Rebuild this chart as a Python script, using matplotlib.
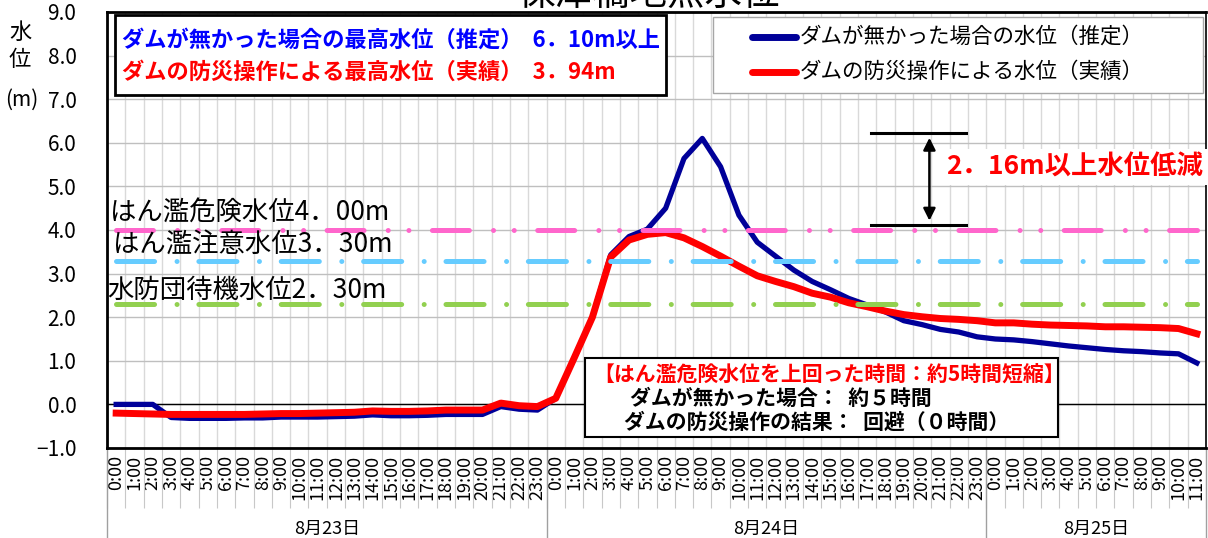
import matplotlib
matplotlib.use("Agg")
import matplotlib.pyplot as plt
from matplotlib.patches import Rectangle
from matplotlib.lines import Line2D
import numpy as np

plt.rcParams['font.family'] = ['Noto Sans CJK JP', 'DejaVu Sans']
plt.rcParams['lines.scale_dashes'] = False

# -- data --
hours = [f"{h}:00" for h in list(range(24)) * 2 + list(range(12))]
days = ["8月23日", "8月24日", "8月25日"]
day_len = [24, 24, 12]

no_dam = [0.0, 0.0, 0.0, -0.30, -0.32, -0.32, -0.32, -0.31, -0.31, -0.29, -0.29, -0.29,
          -0.28, -0.27, -0.24, -0.26, -0.26, -0.25, -0.23, -0.23, -0.23, -0.05, -0.11, -0.13,
          0.14, 1.06, 2.0, 3.43, 3.85, 4.02, 4.50, 5.64, 6.10, 5.45, 4.34, 3.72,
          3.40, 3.08, 2.82, 2.63, 2.43, 2.28, 2.12, 1.92, 1.83, 1.72, 1.66, 1.55, 1.50,
          1.48, 1.44, 1.39, 1.34, 1.30, 1.26, 1.23, 1.21, 1.18, 1.16, 0.95]
actual = [-0.20, -0.21, -0.22, -0.23, -0.23, -0.23, -0.23, -0.23, -0.22, -0.21, -0.21, -0.20,
          -0.19, -0.18, -0.15, -0.16, -0.16, -0.15, -0.13, -0.13, -0.13, 0.03, -0.03, -0.05,
          0.14, 1.06, 2.0, 3.38, 3.77, 3.90, 3.94, 3.82, 3.62, 3.40, 3.17, 2.95,
          2.82, 2.70, 2.55, 2.46, 2.33, 2.24, 2.14, 2.06, 2.01, 1.97, 1.95, 1.92, 1.87,
          1.87, 1.84, 1.82, 1.81, 1.80, 1.78, 1.78, 1.77, 1.76, 1.74, 1.62]

level_names = ["はん濫危険水位4．00m", "はん濫注意水位3．30m", "水防団待機水位2．30m"]
level_values = [4.00, 3.30, 2.30]
level_colors = ["#FF66CC", "#66CCFF", "#92D050"]

x = np.arange(len(hours))

fig = plt.figure(figsize=(12.08, 5.38), dpi=100)
ax = fig.add_axes([107 / 1208, 1 - 448 / 538, (1206 - 107) / 1208, (448 - 12) / 538])
ax.set_xlim(-0.5, len(hours) - 0.5)
ax.set_ylim(-1, 9)

# grid
ax.set_yticks(np.arange(-1, 9.1, 1))
ax.set_yticklabels([f"{v:.1f}".replace("-", "−") for v in np.arange(-1, 9.1, 1)], fontsize=15)
ax.yaxis.grid(True, color="#BFBFBF", lw=1)
ax.set_xticks(x)
ax.set_xticklabels(hours, rotation=90, fontsize=13)
ax.set_xticks(np.arange(-0.5, len(hours), 1), minor=True)
ax.xaxis.grid(True, which="minor", color="#D9D9D9", lw=1)
ax.xaxis.grid(False, which="major")
ax.tick_params(axis="x", which="major", length=0, pad=5)
ax.tick_params(axis="x", which="minor", length=43, color="#C8C8C8", width=0.8)
ax.tick_params(axis="y", length=0, pad=22)
ax.set_axisbelow(True)
for s in ["left", "bottom", "top"]:
    ax.spines[s].set_linewidth(2)
ax.spines["right"].set_linewidth(1.2)
ax.axhline(0, color="black", lw=1, zorder=1)

# day separators and labels
edges = np.cumsum([0] + day_len) - 0.5
for e in edges:
    ax.plot([e, e], [0, -0.21], transform=ax.get_xaxis_transform(),
            color="#A0A0A0", lw=1, clip_on=False)
for i, d in enumerate(days):
    ax.text((edges[i] + edges[i + 1]) / 2, -0.185, d, transform=ax.get_xaxis_transform(),
            ha="center", va="center", fontsize=13)

# series
ax.plot(x, no_dam, color="#000099", lw=3.8, solid_joinstyle="round", zorder=3)
ax.plot(x, actual, color="#FF0000", lw=5, solid_joinstyle="round", zorder=4)

# threshold lines
styles = [(0, (26.6, 17.4, 0.01, 14.9, 0.01, 16.9)),
          (0, (27.4, 16.2, 0.01, 15.7)),
          (0, (27.4, 16.2, 0.01, 15.7))]
label_pos = [(-0.34, 4.39), (-0.17, 3.68), (-0.5, 2.62)]
for name, v, c, st, (lx, ly) in zip(level_names, level_values, level_colors, styles, label_pos):
    ax.plot([x[0], x[-1]], [v, v], color=c, lw=3.6, linestyle=st,
            dash_capstyle="round", zorder=5)
    ax.text(lx, ly, name, ha="left", va="center", fontsize=19, zorder=6)

# top-left info box
ax.add_patch(Rectangle((0.0073, 0.810), 0.501, 0.183, transform=ax.transAxes,
                       facecolor="white", edgecolor="black", lw=2, zorder=7))
ax.text(0.0136, 0.936, "ダムが無かった場合の最高水位（推定）  6．10m以上", transform=ax.transAxes,
        color="#0000FF", fontsize=16, fontweight="bold", va="center", zorder=8)
ax.text(0.0136, 0.862, "ダムの防災操作による最高水位（実績）  3．94m", transform=ax.transAxes,
        color="#FF0000", fontsize=16, fontweight="bold", va="center", zorder=8)

# legend box
ax.add_patch(Rectangle((0.551, 0.815), 0.446, 0.174, transform=ax.transAxes,
                       facecolor="white", edgecolor="#A6A6A6", lw=1, zorder=7))
for yy, c, lab in [(0.943, "#000099", "ダムが無かった場合の水位（推定）"),
                   (0.862, "#FF0000", "ダムの防災操作による水位（実績）")]:
    ax.add_line(Line2D([0.587, 0.627], [yy, yy], transform=ax.transAxes, color=c,
                       lw=5, solid_capstyle="round", zorder=8))
    ax.text(0.630, yy, lab, transform=ax.transAxes, fontsize=15.5, va="center", zorder=8)

# reduction annotation
ax.plot([41.2, 46.4], [6.22, 6.22], color="black", lw=2.2, zorder=6)
ax.plot([41.2, 46.4], [4.11, 4.11], color="black", lw=2.2, zorder=6)
ax.annotate("", xy=(44.4, 4.15), xytext=(44.4, 6.18),
            arrowprops=dict(arrowstyle="<|-|>", color="black", lw=1.8, mutation_scale=18),
            zorder=6)
ax.text(45.3, 5.44, "2．16m以上水位低減", color="#FF0000", fontsize=19, fontweight="bold",
        va="center", ha="left", zorder=6,
        bbox=dict(facecolor="white", edgecolor="none", pad=3))

# bottom box
ax.add_patch(Rectangle((0.435, 0.025), 0.430, 0.181, transform=ax.transAxes,
                       facecolor="white", edgecolor="black", lw=1.5, zorder=7))
ax.text(0.442, 0.167, "【はん濫危険水位を上回った時間：約5時間短縮】", transform=ax.transAxes,
        color="#FF0000", fontsize=15, fontweight="bold", va="center", zorder=8)
ax.text(0.476, 0.113, "ダムが無かった場合：  約５時間", transform=ax.transAxes,
        color="black", fontsize=15, fontweight="bold", va="center", zorder=8)
ax.text(0.470, 0.058, "ダムの防災操作の結果：  回避（０時間）", transform=ax.transAxes,
        color="black", fontsize=15, fontweight="bold", va="center", zorder=8)

# y label and title
fig.text(20 / 1208, 1 - 32 / 538, "水", ha="center", va="center", fontsize=16)
fig.text(20 / 1208, 1 - 60 / 538, "位", ha="center", va="center", fontsize=16)
fig.text(22 / 1208, 1 - 100 / 538, "(m)", ha="center", va="center", fontsize=15)
fig.text(0.537, 1 - 5 / 538, "保津橋地点水位", ha="center", va="baseline", fontsize=27)

fig.savefig("out.png", dpi=100)
